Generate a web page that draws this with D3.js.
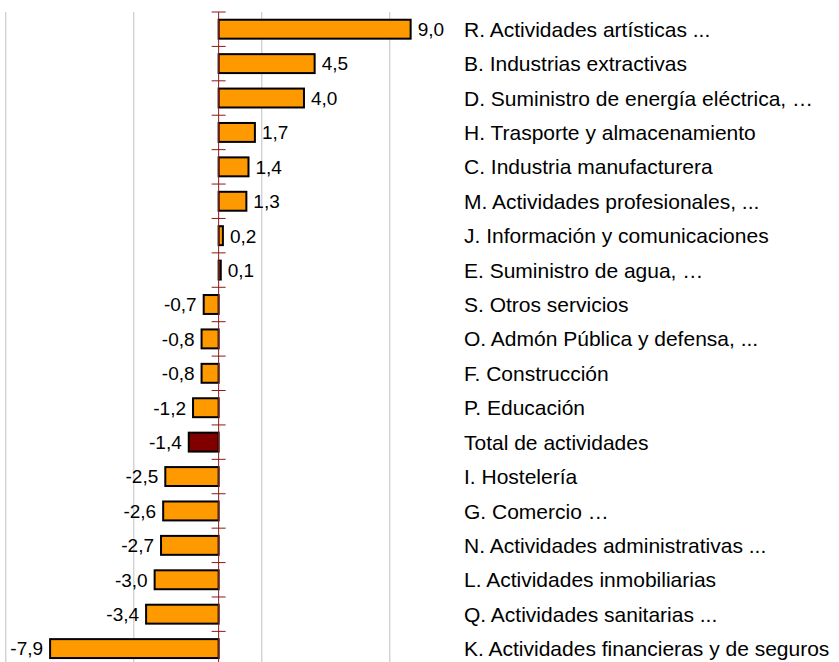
<!DOCTYPE html>
<html>
<head>
<meta charset="utf-8">
<script src="https://cdn.jsdelivr.net/npm/d3@7"></script>
<style>
  html, body { margin: 0; padding: 0; background: #fff; }
  svg { display: block; font-family: "Liberation Sans", Arial, sans-serif; }
</style>
</head>
<body>
<svg id="chart" width="839" height="662"></svg>
<script>
const titleText = "Variaciones interanuales";
const categories = [
  "R. Actividades artísticas ...",
  "B. Industrias extractivas",
  "D. Suministro de energía eléctrica, …",
  "H. Trasporte y almacenamiento",
  "C. Industria manufacturera",
  "M. Actividades profesionales, ...",
  "J. Información y comunicaciones",
  "E. Suministro de agua, …",
  "S. Otros servicios",
  "O. Admón Pública y defensa, ...",
  "F. Construcción",
  "P. Educación",
  "Total de actividades",
  "I. Hostelería",
  "G. Comercio …",
  "N. Actividades administrativas ...",
  "L. Actividades inmobiliarias",
  "Q. Actividades sanitarias ...",
  "K. Actividades financieras y de seguros"
];
const values = [9.0, 4.5, 4.0, 1.7, 1.4, 1.3, 0.2, 0.1, -0.7, -0.8, -0.8, -1.2, -1.4, -2.5, -2.6, -2.7, -3.0, -3.4, -7.9];
const highlight = "Total de actividades";
const gridTicks = [-10, -4, 2, 8];

const svg = d3.select("#chart");
const plotTop = 12, plotBottom = 665.8;

const x = d3.scaleLinear().domain([-10, 14]).range([5.3, 517.3]);
const y = d3.scaleBand().domain(categories).range([plotTop, plotBottom])
  .paddingInner(0.45).paddingOuter(0.225);

const fmt = v => d3.format(".1f")(v).replace(".", ",").replace("−", "-");

// title, clipped at the very top as in the reference
svg.append("text")
  .attr("x", 50).attr("y", -0.5)
  .attr("font-size", 20).attr("fill", "#aaa")
  .text(titleText);

// gridlines
const gridAxis = d3.axisBottom(x).tickValues(gridTicks).tickSize(plotBottom - plotTop).tickFormat("");
const gg = svg.append("g").attr("transform", `translate(0,${plotTop})`).call(gridAxis);
gg.select(".domain").remove();
gg.selectAll(".tick line").attr("stroke", "#c0c0c0").attr("stroke-width", 1);

// bars
svg.append("g").selectAll("rect")
  .data(categories)
  .join("rect")
  .attr("x", (d, i) => x(Math.min(0, values[i])))
  .attr("y", d => y(d))
  .attr("width", (d, i) => Math.abs(x(values[i]) - x(0)))
  .attr("height", y.bandwidth())
  .attr("fill", d => d === highlight ? "#800000" : "#FF9900")
  .attr("stroke", "#000")
  .attr("stroke-width", 2);

// zero axis with category boundary ticks
const x0 = x(0);
const ax = svg.append("g");
ax.append("line")
  .attr("x1", x0).attr("x2", x0)
  .attr("y1", plotTop).attr("y2", plotBottom)
  .attr("stroke", "#8b1a1a").attr("stroke-width", 1);
const step = y.step();
ax.selectAll("line.tk")
  .data(d3.range(categories.length + 1))
  .join("line")
  .attr("class", "tk")
  .attr("x1", x0 - 7).attr("x2", x0 + 7)
  .attr("y1", i => plotTop + i * step).attr("y2", i => plotTop + i * step)
  .attr("stroke", "#8b1a1a").attr("stroke-width", 1);

// value labels
svg.append("g").selectAll("text")
  .data(categories)
  .join("text")
  .attr("x", (d, i) => values[i] >= 0 ? x(values[i]) + 7 : x(values[i]) - 7)
  .attr("y", d => y(d) + y.bandwidth() / 2)
  .attr("dy", "0.36em")
  .attr("text-anchor", (d, i) => values[i] >= 0 ? "start" : "end")
  .attr("font-size", 19)
  .attr("fill", "#000")
  .text((d, i) => fmt(values[i]));

// category labels
svg.append("g").selectAll("text")
  .data(categories)
  .join("text")
  .attr("x", 464)
  .attr("y", d => y(d) + y.bandwidth() / 2)
  .attr("dy", "0.36em")
  .attr("font-size", 21)
  .attr("fill", "#000")
  .text(d => d);
</script>
</body>
</html>
